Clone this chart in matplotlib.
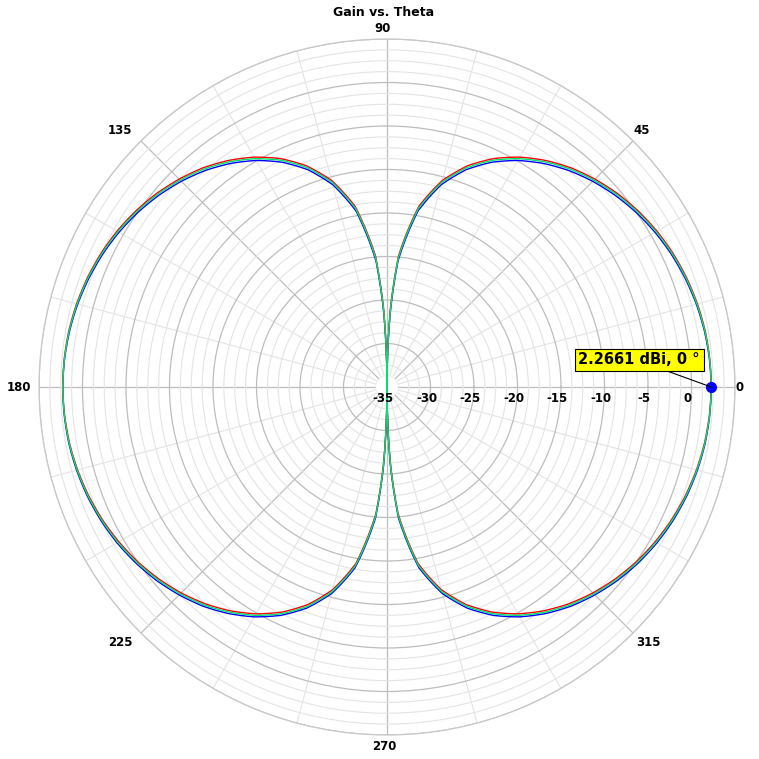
import numpy as np
import matplotlib
matplotlib.use("Agg")
import matplotlib.pyplot as plt
from matplotlib.patches import Circle
from matplotlib.transforms import offset_copy

plt.rcParams['font.family'] = ['DejaVu Sans']

# ---- data (theta in degrees, gain in dBi) ----
theta_deg = [0, 5, 10, 15, 20, 25, 30, 35, 40, 45, 50, 55, 60, 65, 70, 75, 80, 85, 87.5,
             90,
             92.5, 95, 100, 105, 110, 115, 120, 125, 130, 135, 140, 145, 150, 155, 160, 165, 170, 175, 180,
             185, 190, 195, 200, 205, 210, 215, 220, 225, 230, 235, 240, 245, 250, 255, 260, 265, 267.5,
             270,
             272.5, 275, 280, 285, 290, 295, 300, 305, 310, 315, 320, 325, 330, 335, 340, 345, 350, 355, 360]

gain_blue = [2.2661, 2.20, 2.05, 1.81, 1.48, 1.07, 0.57, -0.03, -0.74, -1.56, -2.51, -3.63, -4.93, -6.49, -8.42, -10.93, -14.44, -20.45, -26.47,
             -35.0,
             -26.47, -20.45, -14.44, -10.93, -8.42, -6.49, -4.93, -3.63, -2.51, -1.56, -0.74, -0.03, 0.57, 1.07, 1.48, 1.81, 2.05, 2.20, 2.27,
             2.24, 2.14, 1.94, 1.66, 1.29, 0.83, 0.26, -0.41, -1.21, -2.11, -3.21, -4.49, -6.03, -7.94, -10.42, -13.91, -19.90, -25.92,
             -35.0,
             -25.92, -19.90, -13.91, -10.42, -7.94, -6.03, -4.49, -3.21, -2.11, -1.21, -0.41, 0.26, 0.83, 1.29, 1.66, 1.94, 2.14, 2.24, 2.2661]

gain_red = [2.2661, 2.24, 2.14, 1.94, 1.66, 1.29, 0.83, 0.26, -0.41, -1.21, -2.11, -3.21, -4.49, -6.03, -7.94, -10.42, -13.91, -19.90, -25.92,
            -35.0,
            -25.92, -19.90, -13.91, -10.42, -7.94, -6.03, -4.49, -3.21, -2.11, -1.21, -0.41, 0.26, 0.83, 1.29, 1.66, 1.94, 2.14, 2.24, 2.27,
            2.20, 2.06, 1.82, 1.50, 1.09, 0.59, 0.00, -0.71, -1.53, -2.47, -3.59, -4.89, -6.45, -8.38, -10.88, -14.39, -20.40, -26.42,
            -35.0,
            -26.42, -20.40, -14.39, -10.88, -8.38, -6.45, -4.89, -3.59, -2.47, -1.53, -0.71, 0.00, 0.59, 1.09, 1.50, 1.82, 2.06, 2.20, 2.2661]

gain_green = [2.2661, 2.22, 2.10, 1.88, 1.58, 1.19, 0.71, 0.13, -0.56, -1.37, -2.29, -3.40, -4.69, -6.24, -8.16, -10.65, -14.15, -20.15, -26.17,
              -35.0,
              -26.17, -20.15, -14.15, -10.65, -8.16, -6.24, -4.69, -3.40, -2.29, -1.37, -0.56, 0.13, 0.71, 1.19, 1.58, 1.88, 2.10, 2.22, 2.27,
              2.22, 2.10, 1.88, 1.58, 1.19, 0.71, 0.13, -0.56, -1.37, -2.29, -3.40, -4.69, -6.24, -8.16, -10.65, -14.15, -20.15, -26.17,
              -35.0,
              -26.17, -20.15, -14.15, -10.65, -8.16, -6.24, -4.69, -3.40, -2.29, -1.37, -0.56, 0.13, 0.71, 1.19, 1.58, 1.88, 2.10, 2.22, 2.2661]

r_ticks = [-35, -30, -25, -20, -15, -10, -5, 0]
r_min, r_max = -35, 5
theta_ticks = [0, 45, 90, 135, 180, 225, 270, 315]
theta_labels = ['0', '45', '90', '135', '180', '225', '270', '315']
marker_gain = 2.2661
marker_theta = 0
title = 'Gain vs. Theta'

# ---- figure ----
W = 759
fig = plt.figure(figsize=(W / 100, W / 100), dpi=100)
cx, cy, R = 387, 387, 348
ax = fig.add_axes([(cx - R) / W, (W - cy - R) / W, 2 * R / W, 2 * R / W], projection='polar')

ax.set_ylim(r_min, r_max)
ax.set_axisbelow(True)

# grids
ax.set_yticks(list(range(-35, 6, 5)))
ax.set_yticks(list(np.arange(-35, 5.01, 1.25)), minor=True)
ax.set_yticklabels([])
ax.set_xticks(np.deg2rad(theta_ticks))
ax.set_xticklabels([])
ax.set_xticks(np.deg2rad(np.arange(0, 360, 15)), minor=True)
ax.tick_params(axis='x', length=0, which='both')
ax.tick_params(axis='y', length=0, which='both')
ax.grid(True, which='major', color='#bdbdbd', linewidth=0.9)
ax.grid(True, which='minor', color='#e4e4e4', linewidth=0.8)
ax.spines['polar'].set_color('#c8c8c8')
ax.spines['polar'].set_linewidth(0.9)

# small white hole at the center
ax.add_patch(Circle((0.5, 0.5), 11 / (2 * R), transform=ax.transAxes,
                    facecolor='white', edgecolor='none', zorder=1))

th = np.deg2rad(theta_deg)
for vals, col in [(gain_blue, '#0000ff'), (gain_red, '#ff0000'), (gain_green, '#00e070')]:
    ln, = ax.plot(th, vals, color=col, lw=1.0, zorder=3)
    ln.get_path()._interpolation_steps = 16

# radial labels along 0 deg, below the axis line
tr = offset_copy(ax.transData, fig=fig, x=-4, y=-12, units='dots')
for r in r_ticks:
    ax.text(0, r, str(r), transform=tr, ha='center', va='center',
            fontsize=8.5, fontweight='bold', zorder=4)

# angular labels (pixel centres as laid out in the reference)
theta_label_px = {0: (740, 387), 45: (642, 131), 90: (383, 28), 135: (120, 131),
                  180: (19, 387), 225: (120, 643), 270: (384, 747), 315: (648, 643)}
for t, lab in zip(theta_ticks, theta_labels):
    px, py = theta_label_px[t]
    fig.text(px / W, 1 - py / W, lab, ha='center', va='center',
             fontsize=8.5, fontweight='bold')

# marker + annotation
ax.plot([np.deg2rad(marker_theta)], [marker_gain], 'o', color='#0000ff', ms=7, zorder=5)
ax.annotate(f'{marker_gain:.4f} dBi, {marker_theta} \u00b0',
            xy=(np.deg2rad(marker_theta), marker_gain),
            xytext=(-72, 27), textcoords='offset pixels',
            ha='center', va='center', fontsize=10.5, fontweight='bold',
            bbox=dict(boxstyle='square,pad=0.25', facecolor='#ffff00', edgecolor='black', lw=0.8),
            arrowprops=dict(arrowstyle='-', color='black', lw=0.8, relpos=(0.65, 0.0),
                            shrinkA=0, shrinkB=0),
            zorder=6)

fig.text(384 / W, 1 - 12 / W, title, ha='center', va='center', fontsize=9, fontweight='bold')

fig.savefig('out.png', dpi=100)
